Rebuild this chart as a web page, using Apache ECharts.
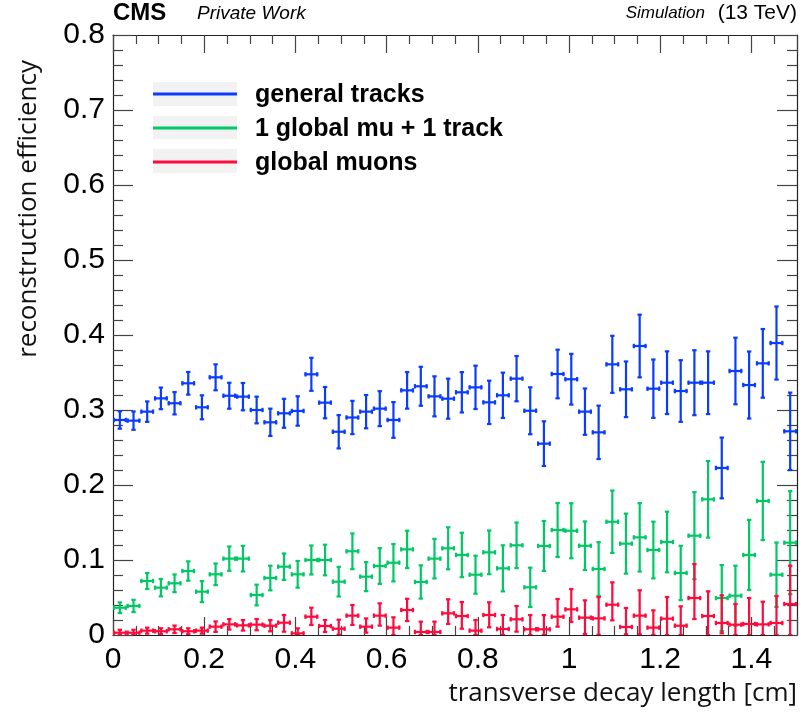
<!DOCTYPE html>
<html>
<head>
<meta charset="utf-8">
<script src="https://cdn.jsdelivr.net/npm/echarts@6/dist/echarts.min.js"></script>
<style>
html,body{margin:0;padding:0;background:#fff;}
#chart{width:803px;height:720px;}
</style>
</head>
<body>
<div id="chart"></div>
<script>
// ---- data ----
const xMin = 0, xMax = 1.5, binWidth = 0.03;
const yTicks = ['0','0.1','0.2','0.3','0.4','0.5','0.6','0.7','0.8'];
const xTicks = ['0','0.2','0.4','0.6','0.8','1','1.2','1.4'];
const seriesNames = ['general tracks', '1 global mu + 1 track', 'global muons'];

const generalVal = [0.2867,0.2858,0.2978,0.3155,0.309,0.3356,0.3036,0.3436,0.319,0.3178,
  0.300,0.2836,0.2956,0.2987,0.3476,0.3098,0.271,0.290,0.2978,0.3018,
  0.2867,0.3262,0.3316,0.3182,0.3151,0.3236,0.3302,0.3102,0.3196,0.3418,
  0.299,0.2551,0.348,0.341,0.2978,0.2702,0.3609,0.3276,0.3853,0.3284,
  0.3364,0.3253,0.3364,0.3364,0.2227,0.352,0.3333,0.3622,0.3893,0.2716];
const generalErr = [0.0116,0.0122,0.0136,0.0144,0.0149,0.0151,0.016,0.0173,0.0173,0.0182,
  0.0178,0.0182,0.0193,0.0196,0.022,0.0209,0.0222,0.0222,0.0222,0.0233,
  0.0238,0.0244,0.026,0.0267,0.0267,0.0269,0.0289,0.0289,0.0302,0.0302,
  0.0313,0.0298,0.0324,0.0338,0.0309,0.0356,0.038,0.0371,0.0418,0.0389,
  0.0418,0.0411,0.0433,0.0418,0.0405,0.0444,0.0447,0.0458,0.0487,0.0516];

const oneMuVal = [0.0364,0.0387,0.072,0.0631,0.0689,0.0853,0.0578,0.0809,0.1018,0.1018,
  0.0533,0.076,0.0911,0.0809,0.1,0.1,0.0711,0.1116,0.0778,0.092,
  0.0964,0.1142,0.0707,0.1018,0.1156,0.1067,0.0804,0.1102,0.0889,0.1196,
  0.0636,0.1187,0.14,0.139,0.119,0.088,0.151,0.1218,0.1302,0.1133,
  0.124,0.0827,0.1324,0.1809,0.0493,0.0524,0.1067,0.1787,0.0804,0.1231];
const oneMuErr = [0.0071,0.0082,0.0107,0.0116,0.0118,0.0129,0.014,0.0144,0.0162,0.0171,
  0.0138,0.0164,0.0176,0.0178,0.0193,0.0204,0.0198,0.0238,0.0193,0.0238,
  0.0249,0.0249,0.0222,0.0264,0.028,0.0296,0.0253,0.0291,0.0307,0.0304,
  0.0262,0.0333,0.036,0.0367,0.0324,0.0358,0.0416,0.04,0.0456,0.0378,
  0.0404,0.0362,0.058,0.0511,0.044,0.04,0.0467,0.0522,0.0429,0.0687];

const globalVal = [0.003,0.003,0.0058,0.005,0.0076,0.005,0.0058,0.0111,0.0142,0.0129,
  0.0138,0.0124,0.0164,0.0022,0.0244,0.012,0.0084,0.0258,0.0111,0.0258,
  0.0098,0.0333,0.004,0.004,0.0289,0.0253,0.0058,0.0267,0.008,0.0209,
  0.0076,0.0076,0.0244,0.0342,0.0231,0.0222,0.0404,0.0107,0.0258,0.0098,
  0.0218,0.0124,0.0493,0.0253,0.016,0.0138,0.0147,0.0142,0.016,0.0413];
const globalErrUp = [0.004,0.004,0.004,0.004,0.005,0.004,0.004,0.007,0.007,0.007,
  0.0075,0.0075,0.0102,0.0067,0.012,0.008,0.012,0.0142,0.011,0.0164,
  0.0138,0.015,0.0138,0.0138,0.0187,0.0187,0.0142,0.0169,0.0187,0.0178,
  0.019,0.019,0.0236,0.0271,0.0231,0.0284,0.0298,0.0253,0.0338,0.0231,
  0.0289,0.0258,0.0453,0.0329,0.0369,0.0276,0.0347,0.0302,0.036,0.0511];
const globalErrDown = [0.003,0.003,0.004,0.004,0.005,0.004,0.004,0.007,0.007,0.007,
  0.0075,0.0075,0.012,0.0022,0.011,0.008,0.008,0.0124,0.008,0.0133,
  0.0098,0.0147,0.004,0.004,0.0142,0.0169,0.0058,0.0164,0.008,0.0164,
  0.0076,0.0076,0.0133,0.0169,0.0218,0.0218,0.0209,0.0098,0.0249,0.0098,
  0.0218,0.0124,0.028,0.0253,0.0138,0.0138,0.0147,0.0142,0.016,0.0413];

const colors = ['#0a3cff', '#00c865', '#ff0a3c'];

// ---- build ----
function buildData(vals, up, down) {
  return vals.map((v, i) => {
    const xc = xMin + binWidth * (i + 0.5);
    const hi = v + up[i];
    const lo = Math.max(0, v - down[i]);
    return [xc, v, lo, hi];
  });
}

function makeRender(color) {
  return function (params, api) {
    const x = api.value(0), y = api.value(1), lo = api.value(2), hi = api.value(3);
    const pL = api.coord([x - binWidth / 2, y]);
    const pR = api.coord([x + binWidth / 2, y]);
    const pT = api.coord([x, hi]);
    const pB = api.coord([x, lo]);
    const st = { stroke: color, lineWidth: 2.2 };
    const c = 2.2;
    const L = (x1, y1, x2, y2) => ({ type: 'line', shape: { x1, y1, x2, y2 }, style: st });
    return {
      type: 'group',
      children: [
        L(pL[0], pL[1], pR[0], pR[1]),
        L(pT[0], pT[1], pB[0], pB[1]),
        L(pT[0] - c, pT[1], pT[0] + c, pT[1]),
        L(pB[0] - c, pB[1], pB[0] + c, pB[1]),
        L(pL[0] + 1, pL[1] - c, pL[0] + 1, pL[1] + c),
        L(pR[0] - 1, pR[1] - c, pR[0] - 1, pR[1] + c)
      ]
    };
  };
}

const chart = echarts.init(document.getElementById('chart'), null, { renderer: 'canvas' });

const frameColor = '#222';
const tickColor = '#444';
const numFont = 'Liberation Sans, Arial, sans-serif';
const titleFont = 'Open Sans, Noto Sans, sans-serif';
const boldFont = 'Liberation Sans, Arial, sans-serif';

const xLabelSet = new Set(xTicks);
const yLabelSet = new Set(yTicks);

function frameAxis(extra) {
  return Object.assign({
    type: 'value',
    axisLine: { show: true, onZero: false, lineStyle: { color: frameColor, width: 1.2 } },
    splitLine: { show: false }
  }, extra);
}

const option = {
  animation: false,
  backgroundColor: '#fff',
  grid: { left: 113, right: 6, top: 35, bottom: 85, containLabel: false },
  xAxis: [
    frameAxis({
      position: 'bottom', min: xMin, max: xMax, interval: 0.2,
      axisTick: { show: true, inside: true, length: 18, lineStyle: { color: tickColor, width: 1.2 } },
      minorTick: { show: true, splitNumber: 4, length: 9, lineStyle: { color: tickColor, width: 1.2 } },
      axisLabel: {
        show: true, margin: 10, fontSize: 30, color: '#000', fontFamily: numFont,
        showMaxLabel: false,
        formatter: v => { const s = String(+v.toFixed(2)); return xLabelSet.has(s) ? s : ''; }
      }
    }),
    frameAxis({
      position: 'top', min: xMin, max: xMax, interval: 0.2,
      axisTick: { show: true, inside: true, length: 18, lineStyle: { color: tickColor, width: 1.2 } },
      minorTick: { show: true, splitNumber: 4, length: 9, lineStyle: { color: tickColor, width: 1.2 } },
      axisLabel: { show: false }
    })
  ],
  yAxis: [
    frameAxis({
      position: 'left', min: 0, max: 0.8, interval: 0.1,
      axisTick: { show: true, inside: true, length: 20, lineStyle: { color: tickColor, width: 1.2 } },
      minorTick: { show: true, splitNumber: 5, length: 10, lineStyle: { color: tickColor, width: 1.2 } },
      axisLabel: {
        show: true, margin: 8, fontSize: 30, color: '#000', fontFamily: numFont,
        formatter: v => { const s = String(+v.toFixed(2)); return yLabelSet.has(s) ? s : ''; }
      }
    }),
    frameAxis({
      position: 'right', min: 0, max: 0.8, interval: 0.1,
      axisTick: { show: true, inside: true, length: 20, lineStyle: { color: tickColor, width: 1.2 } },
      minorTick: { show: true, splitNumber: 5, length: 10, lineStyle: { color: tickColor, width: 1.2 } },
      axisLabel: { show: false }
    })
  ],
  series: [
    {
      name: seriesNames[0], type: 'custom', xAxisIndex: 0, yAxisIndex: 0,
      renderItem: makeRender(colors[0]), encode: { x: 0, y: 1 },
      data: buildData(generalVal, generalErr, generalErr), clip: true, z: 2
    },
    {
      name: seriesNames[1], type: 'custom', xAxisIndex: 0, yAxisIndex: 0,
      renderItem: makeRender(colors[1]), encode: { x: 0, y: 1 },
      data: buildData(oneMuVal, oneMuErr, oneMuErr), clip: true, z: 3
    },
    {
      name: seriesNames[2], type: 'custom', xAxisIndex: 0, yAxisIndex: 0,
      renderItem: makeRender(colors[2]), encode: { x: 0, y: 1 },
      data: buildData(globalVal, globalErrUp, globalErrDown), clip: true, z: 4
    }
  ],
  graphic: [
    // header texts
    { type: 'text', left: 113, top: 1, style: { text: 'CMS', font: 'bold 24px ' + boldFont, fill: '#000' } },
    { type: 'text', left: 197, top: 4, style: { text: 'Private Work', font: 'italic 19px ' + boldFont, fill: '#000' } },
    { type: 'text', right: 98, top: 5, style: { text: 'Simulation', font: 'italic 17px ' + boldFont, fill: '#000' } },
    { type: 'text', right: 6, top: 3, style: { text: '(13 TeV)', font: '21px ' + boldFont, fill: '#000' } },
    // axis titles
    { type: 'text', x: 29, y: 60, rotation: Math.PI / 2,
      style: { text: 'reconstruction efficiency', font: '26px ' + titleFont, fill: '#111', align: 'right', verticalAlign: 'middle' } },
    { type: 'text', x: 797, y: 694,
      style: { text: 'transverse decay length [cm]', font: '26px ' + titleFont, fill: '#111', align: 'right', verticalAlign: 'middle' } },
    // legend
    { type: 'rect', shape: { x: 153, y: 82, width: 84, height: 24 }, style: { fill: '#f2f2f2' } },
    { type: 'line', shape: { x1: 153, y1: 94, x2: 237, y2: 94 }, style: { stroke: colors[0], lineWidth: 3 } },
    { type: 'text', x: 255, y: 95, style: { text: seriesNames[0], font: 'bold 25px ' + boldFont, fill: '#000', verticalAlign: 'middle' } },
    { type: 'rect', shape: { x: 153, y: 116, width: 84, height: 23 }, style: { fill: '#f2f2f2' } },
    { type: 'line', shape: { x1: 153, y1: 128, x2: 237, y2: 128 }, style: { stroke: colors[1], lineWidth: 3 } },
    { type: 'text', x: 255, y: 129, style: { text: seriesNames[1], font: 'bold 25px ' + boldFont, fill: '#000', verticalAlign: 'middle' } },
    { type: 'rect', shape: { x: 153, y: 149, width: 84, height: 24 }, style: { fill: '#f2f2f2' } },
    { type: 'line', shape: { x1: 153, y1: 162, x2: 237, y2: 162 }, style: { stroke: colors[2], lineWidth: 3 } },
    { type: 'text', x: 255, y: 163, style: { text: seriesNames[2], font: 'bold 25px ' + boldFont, fill: '#000', verticalAlign: 'middle' } }
  ]
};

chart.setOption(option);
</script>
</body>
</html>
